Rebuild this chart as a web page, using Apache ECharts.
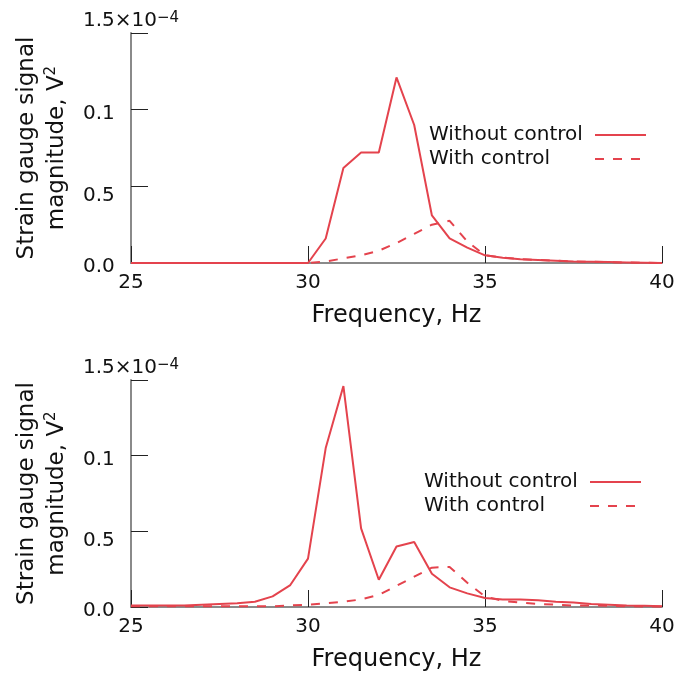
<!DOCTYPE html>
<html>
<head>
<meta charset="utf-8">
<script src="https://cdn.jsdelivr.net/npm/echarts@6/dist/echarts.min.js"></script>
<style>
    html, body { margin: 0; padding: 0; background: #fff; }
    #chart { width: 680px; height: 673px; }
</style>
</head>
<body>
<div id="chart"></div>
<script>
// frequency, Hz
var freq = [25, 25.5, 26, 26.5, 27, 27.5, 28, 28.5, 29, 29.5, 30, 30.5, 31, 31.5, 32, 32.5,
    33, 33.5, 34, 34.5, 35, 35.5, 36, 36.5, 37, 37.5, 38, 38.5, 39, 39.5, 40];

// signal magnitude, x 1e-4 V^2
var topWithout = [0, 0, 0, 0, 0, 0, 0, 0, 0, 0, 0, 0.16, 0.62, 0.72, 0.72, 1.21,
    0.90, 0.31, 0.16, 0.10, 0.05, 0.035, 0.025, 0.02, 0.015, 0.01, 0.008, 0.006, 0.004, 0.002, 0];
var topWith = [0, 0, 0, 0, 0, 0, 0, 0, 0, 0, 0, 0.01, 0.03, 0.05, 0.08, 0.13,
    0.19, 0.25, 0.275, 0.14, 0.05, 0.035, 0.025, 0.02, 0.015, 0.01, 0.008, 0.005, 0.003, 0.002, 0];
var bottomWithout = [0.01, 0.01, 0.01, 0.01, 0.015, 0.02, 0.025, 0.035, 0.07, 0.145, 0.32, 1.05, 1.46, 0.52, 0.18, 0.40,
    0.43, 0.22, 0.13, 0.09, 0.06, 0.05, 0.05, 0.045, 0.035, 0.03, 0.02, 0.015, 0.01, 0.008, 0.005];
var bottomWith = [0.005, 0.005, 0.005, 0.005, 0.005, 0.005, 0.005, 0.005, 0.005, 0.01, 0.015, 0.024, 0.035, 0.05, 0.08, 0.14,
    0.20, 0.26, 0.265, 0.16, 0.07, 0.04, 0.03, 0.02, 0.015, 0.01, 0.01, 0.008, 0.005, 0.004, 0.003];

var names = ['Without control', 'With control'];
var yTickLabels = ['0.0', '0.5', '0.1', '1.5'];

var chart = echarts.init(document.getElementById('chart'));

var FONT = 'DejaVu Sans';
var TEXT = '#111';
var RED = '#e4434d';

function pairs(ys) {
    return freq.map(function (f, i) { return [f, ys[i]]; });
}

// odd label offsets copied from the original figure
var yRich = {
    p0: { fontFamily: FONT, fontSize: 20, color: TEXT, padding: [8, 0, 0, 0] },
    p1: { fontFamily: FONT, fontSize: 20, color: TEXT, padding: [18, 0, 0, 0] },
    p2: { fontFamily: FONT, fontSize: 20, color: TEXT, padding: [8, 0, 0, 0] },
    top: { fontFamily: FONT, fontSize: 20, color: TEXT, padding: [0, 0, 24, 0] },
    sup: { fontFamily: FONT, fontSize: 15, color: TEXT, padding: [0, 0, 30, 0] }
};

function yLabel(val) {
    var i = Math.round(val / 0.5);
    if (i === 3) return '{top|' + yTickLabels[i] + '×10}{sup|−4}';
    return '{p' + i + '|' + yTickLabels[i] + '}';
}

function xAxis(gridIndex) {
    return {
        type: 'value',
        gridIndex: gridIndex,
        min: 25,
        max: 40,
        interval: 5,
        name: 'Frequency, Hz',
        nameLocation: 'middle',
        nameGap: 41,
        nameTextStyle: { fontFamily: FONT, fontSize: 24, color: TEXT },
        axisLine: { lineStyle: { color: '#8a8a8a', width: 2 } },
        axisTick: { inside: true, length: 17, lineStyle: { color: '#222', width: 1 } },
        axisLabel: { margin: 10, fontFamily: FONT, fontSize: 20, color: TEXT },
        splitLine: { show: false }
    };
}

function yAxis(gridIndex) {
    return {
        type: 'value',
        gridIndex: gridIndex,
        min: 0,
        max: 1.5,
        interval: 0.5,
        name: '{t|Strain gauge signal}\n{t|magnitude, V}{sup|2}',
        nameLocation: 'middle',
        nameRotate: 90,
        nameGap: 59,
        nameTextStyle: {
            fontFamily: FONT, fontSize: 23, color: TEXT, lineHeight: 30,
            rich: {
                t: { fontFamily: FONT, fontSize: 23, color: TEXT, lineHeight: 30 },
                sup: { fontFamily: FONT, fontSize: 15, color: TEXT, padding: [0, 0, 12, 0] }
            }
        },
        axisLine: { show: true, lineStyle: { color: '#8a8a8a', width: 2 } },
        axisTick: { show: true, inside: true, length: 17, lineStyle: { color: '#222', width: 1 } },
        axisLabel: {
            align: 'left',
            margin: 48,
            formatter: yLabel,
            rich: yRich
        },
        splitLine: { show: false }
    };
}

function legend(left, top) {
    return {
        data: names,
        orient: 'vertical',
        left: left,
        top: top,
        align: 'right',
        itemWidth: 51,
        itemHeight: 14,
        itemGap: 2,
        selectedMode: false,
        itemStyle: { color: 'rgba(0,0,0,0)', borderWidth: 0, opacity: 0 },
        formatter: '{n|{name}}',
        textStyle: {
            fontFamily: FONT, fontSize: 20, color: TEXT, lineHeight: 22,
            rich: { n: { fontFamily: FONT, fontSize: 20, color: TEXT, width: 161, align: 'left' } }
        }
    };
}

function line(name, data, dashed, idx) {
    return {
        name: name,
        type: 'line',
        xAxisIndex: idx,
        yAxisIndex: idx,
        data: pairs(data),
        symbol: 'none',
        lineStyle: { color: RED, width: 2, type: dashed ? [9, 9] : 'solid' },
        itemStyle: { color: RED },
        z: dashed ? 2 : 3
    };
}

var option = {
    animation: false,
    backgroundColor: '#fff',
    grid: [
        { left: 131, right: 18, top: 33, height: 230, containLabel: false, outerBoundsMode: 'none' },
        { left: 131, right: 18, top: 380, height: 227, containLabel: false, outerBoundsMode: 'none' }
    ],
    legend: [legend(424, 119), legend(419, 466)],
    xAxis: [xAxis(0), xAxis(1)],
    yAxis: [yAxis(0), yAxis(1)],
    series: [
        line(names[0], topWithout, false, 0),
        line(names[1], topWith, true, 0),
        line(names[0], bottomWithout, false, 1),
        line(names[1], bottomWith, true, 1)
    ]
};

chart.setOption(option);
</script>
</body>
</html>
